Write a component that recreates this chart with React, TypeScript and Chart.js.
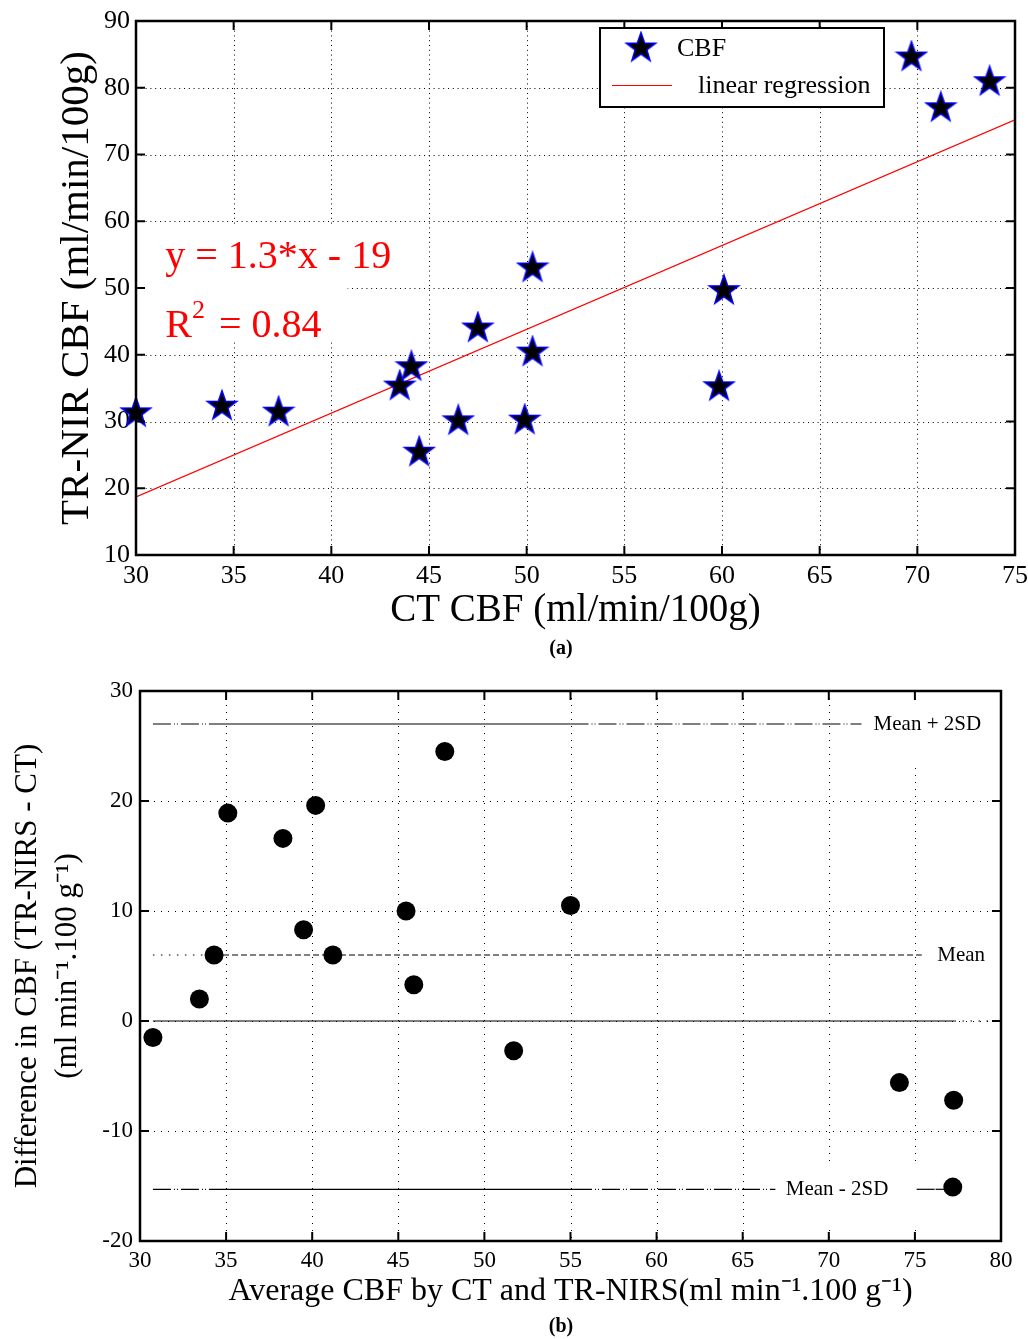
import React, { useEffect, useRef } from 'react';
import { Chart, registerables } from 'chart.js';

Chart.register(...registerables);

const FONT = "'Liberation Serif', 'Times New Roman', serif";

// ---------- Panel (a): TR-NIRS CBF vs CT CBF ----------
const ctCbf = [30.0, 34.4, 37.3, 43.5, 44.1, 44.5, 46.5, 47.5, 49.9, 50.3, 50.3, 59.85, 60.1, 69.7, 71.2, 73.7];
const nirsCbf = [31.3, 32.3, 31.4, 35.3, 38.2, 25.4, 30.1, 44.0, 30.2, 53.0, 40.4, 35.2, 49.6, 84.6, 77.0, 80.9];
const regressionX = [30, 75];
const regressionY = [18.7, 75.2];
const xTicksA = [30, 35, 40, 45, 50, 55, 60, 65, 70, 75];
const yTicksA = [10, 20, 30, 40, 50, 60, 70, 80, 90];
const eqText = 'y = 1.3*x - 19';
const r2Text = '= 0.84';

// ---------- Panel (b): Bland-Altman ----------
const avgCbf = [30.75, 33.45, 34.3, 35.1, 38.3, 39.5, 40.2, 41.2, 45.45, 45.9, 47.7, 51.7, 55.0, 74.1, 77.25, 77.2];
const diffCbf = [-1.5, 2.0, 6.0, 18.9, 16.6, 8.3, 19.6, 6.0, 10.0, 3.3, 24.5, -2.7, 10.5, -5.6, -7.2, -15.1];
const meanDiff = 6.0;
const upperLoa = 27.0;
const lowerLoa = -15.3;
const upperBreaks = [30.75, 35, 55, 71.9];
const lowerBreaks = [30.75, 35, 55.2, 66.9];
const lowerTailBreaks = [75.1, 76.2, 77.2];
const meanBreaks = [30.75, 34.3, 75.4];
const zeroBreaks = [30.75, 77.3, 80];
const xTicksB = [30, 35, 40, 45, 50, 55, 60, 65, 70, 75, 80];
const yTicksB = [-20, -10, 0, 10, 20, 30];
const refLabels = ['Mean + 2SD', 'Mean', 'Mean - 2SD'];
const refLabelX = [72.6, 76.3, 67.5];
const refLabelY = [upperLoa, meanDiff, lowerLoa];

const DASH: Record<string, number[]> = {
  solid: [],
  dashdot: [18, 3, 1, 2, 1, 3],
  dashed: [6, 3],
  dotted: [1.5, 6.5],
};

function makeStar(): HTMLCanvasElement {
  const c = document.createElement('canvas');
  c.width = 34;
  c.height = 35;
  const g = c.getContext('2d')!;
  const cx = 17, cy = 17.5, R = 15.5, r = 6.2;
  g.beginPath();
  for (let i = 0; i < 10; i++) {
    const rad = i % 2 === 0 ? R : r;
    const ang = -Math.PI / 2 + (i * Math.PI) / 5;
    const px = cx + rad * Math.cos(ang);
    const py = cy + rad * Math.sin(ang);
    if (i === 0) g.moveTo(px, py);
    else g.lineTo(px, py);
  }
  g.closePath();
  g.fillStyle = '#000';
  g.fill();
  g.strokeStyle = '#0000ff';
  g.lineWidth = 1.5;
  g.stroke();
  return c;
}

function drawGrid(chart: any, dash: number[]) {
  const { ctx, chartArea: a, scales } = chart;
  const xs = scales.x, ys = scales.y;
  ctx.save();
  ctx.strokeStyle = '#000';
  ctx.lineWidth = 1;
  ctx.setLineDash(dash);
  xs.ticks.forEach((t: any) => {
    if (t.value <= xs.min || t.value >= xs.max) return;
    const px = Math.round(xs.getPixelForValue(t.value)) + 0.5;
    ctx.beginPath();
    ctx.moveTo(px, a.top);
    ctx.lineTo(px, a.bottom);
    ctx.stroke();
  });
  ys.ticks.forEach((t: any) => {
    if (t.value <= ys.min || t.value >= ys.max) return;
    const py = Math.round(ys.getPixelForValue(t.value)) + 0.5;
    ctx.beginPath();
    ctx.moveTo(a.left, py);
    ctx.lineTo(a.right, py);
    ctx.stroke();
  });
  ctx.restore();
}

function drawFrame(chart: any, width: number, tickLen: number) {
  const { ctx, chartArea: a, scales } = chart;
  const xs = scales.x, ys = scales.y;
  ctx.save();
  ctx.setLineDash([]);
  ctx.strokeStyle = '#000';
  ctx.lineWidth = 2;
  xs.ticks.forEach((t: any) => {
    const px = xs.getPixelForValue(t.value);
    ctx.beginPath();
    ctx.moveTo(px, a.bottom);
    ctx.lineTo(px, a.bottom - tickLen);
    ctx.moveTo(px, a.top);
    ctx.lineTo(px, a.top + tickLen);
    ctx.stroke();
  });
  ys.ticks.forEach((t: any) => {
    const py = ys.getPixelForValue(t.value);
    ctx.beginPath();
    ctx.moveTo(a.left, py);
    ctx.lineTo(a.left + tickLen, py);
    ctx.moveTo(a.right, py);
    ctx.lineTo(a.right - tickLen, py);
    ctx.stroke();
  });
  ctx.lineWidth = width;
  ctx.strokeRect(a.left, a.top, a.right - a.left, a.bottom - a.top);
  ctx.restore();
}

function drawCaption(chart: any, text: string, y: number) {
  const { ctx } = chart;
  ctx.save();
  ctx.font = `bold 20px ${FONT}`;
  ctx.fillStyle = '#000';
  ctx.textAlign = 'center';
  ctx.textBaseline = 'middle';
  ctx.fillText(text, 561, y);
  ctx.restore();
}

const zeroPad = () => ({ left: 0, top: 0, right: 0, bottom: 0 });

function axisOpts(ticks: number[], min: number, max: number, size: number, pad: number, fit: (s: any) => void, title: any) {
  return {
    type: 'linear',
    min,
    max,
    afterBuildTicks: (s: any) => {
      s.ticks = ticks.map((v) => ({ value: v }));
    },
    afterFit: (s: any) => {
      fit(s);
      s.paddingLeft = 0;
      s.paddingRight = 0;
      s.paddingTop = 0;
      s.paddingBottom = 0;
      s.getPadding = zeroPad;
    },
    grid: { display: false, drawTicks: false },
    border: { display: false },
    ticks: {
      font: { family: FONT, size },
      color: '#000',
      padding: pad,
      maxRotation: 0,
      autoSkip: false,
      callback: (v: any) => String(v),
    },
    title,
  };
}

function ChartA() {
  const ref = useRef<HTMLCanvasElement>(null);
  useEffect(() => {
    const star = makeStar();
    const plugin = {
      id: 'panelA',
      beforeDatasetsDraw(chart: any) {
        drawGrid(chart, [1, 3.8]);
        const { ctx, chartArea: a, scales } = chart;
        const xs = scales.x, ys = scales.y;
        ctx.save();
        ctx.font = `40px ${FONT}`;
        const ex = xs.getPixelForValue(31.5);
        const eyBase = ys.getPixelForValue(53.0);
        const rBase = ys.getPixelForValue(42.7);
        const eqW = ctx.measureText(eqText).width;
        ctx.fillStyle = '#fff';
        ctx.fillRect(a.left + 2, eyBase - 42, ex + eqW + 8 - a.left - 2, 58);
        const rW = ctx.measureText('R').width;
        ctx.font = `26px ${FONT}`;
        const supW = ctx.measureText('2').width;
        ctx.font = `40px ${FONT}`;
        const r2W = ctx.measureText(r2Text).width;
        const r2End = ex + rW + supW + 14 + r2W;
        ctx.fillStyle = '#fff';
        ctx.fillRect(a.left + 2, rBase - 69, r2End + 26 - a.left - 2, 74);
        ctx.fillStyle = '#ff0000';
        ctx.textAlign = 'left';
        ctx.textBaseline = 'alphabetic';
        ctx.fillText(eqText, ex, eyBase);
        ctx.fillText('R', ex, rBase);
        ctx.font = `26px ${FONT}`;
        ctx.fillText('2', ex + rW, rBase - 19);
        ctx.font = `40px ${FONT}`;
        ctx.fillText(r2Text, ex + rW + supW + 14, rBase);
        ctx.restore();
      },
      afterDatasetsDraw(chart: any) {
        drawFrame(chart, 2.5, 9);
        const { ctx, chartArea: a } = chart;
        const ds = chart.data.datasets;
        const bx = a.right - 415, by = a.top + 7, bw = 284, bh = 79;
        ctx.save();
        ctx.fillStyle = '#fff';
        ctx.fillRect(bx, by, bw, bh);
        ctx.strokeStyle = '#000';
        ctx.lineWidth = 2;
        ctx.setLineDash([]);
        ctx.strokeRect(bx, by, bw, bh);
        ctx.drawImage(star, bx + 41 - star.width / 2, by + 20 - star.height / 2);
        ctx.font = `26px ${FONT}`;
        ctx.fillStyle = '#000';
        ctx.textAlign = 'left';
        ctx.textBaseline = 'middle';
        ctx.fillText(ds[0].label, bx + 77, by + 21);
        ctx.strokeStyle = '#ff0000';
        ctx.lineWidth = 1.2;
        ctx.beginPath();
        ctx.moveTo(bx + 12, by + 57.5);
        ctx.lineTo(bx + 72, by + 57.5);
        ctx.stroke();
        ctx.fillText(ds[1].label, bx + 98, by + 58);
        ctx.restore();
      },
      afterDraw(chart: any) {
        drawCaption(chart, '(a)', 649);
      },
    };
    const chart = new Chart(ref.current!, {
      type: 'scatter',
      data: {
        datasets: [
          {
            label: 'CBF',
            data: ctCbf.map((x, i) => ({ x, y: nirsCbf[i] })),
            pointStyle: star as any,
            pointRadius: 15,
            clip: false as any,
          },
          {
            label: 'linear regression',
            data: regressionX.map((x, i) => ({ x, y: regressionY[i] })),
            showLine: true,
            borderColor: '#ff0000',
            borderWidth: 1.2,
            pointRadius: 0,
          },
        ],
      },
      options: {
        responsive: false,
        animation: false,
        events: [],
        layout: { autoPadding: false, padding: { left: 0, top: 21, right: 13, bottom: 0 } },
        plugins: { legend: { display: false }, tooltip: { enabled: false } },
        scales: {
          x: axisOpts(xTicksA, 30, 75, 26, 6, (s: any) => {
            s.height = 110;
          }, {
            display: true,
            text: 'CT CBF (ml/min/100g)',
            font: { family: FONT, size: 39 },
            color: '#000',
            padding: { top: 0, bottom: 31 },
          }) as any,
          y: axisOpts(yTicksA, 10, 90, 26, 6, (s: any) => {
            s.width = 136;
          }, {
            display: true,
            text: 'TR-NIR CBF (ml/min/100g)',
            font: { family: FONT, size: 41 },
            color: '#000',
            padding: { top: 53, bottom: 0 },
          }) as any,
        },
      } as any,
      plugins: [plugin as any],
    });
    return () => chart.destroy();
  }, []);
  return (
    <canvas
      ref={ref}
      width={1028}
      height={665}
      style={{ position: 'absolute', left: 0, top: 0, width: 1028, height: 665 }}
    />
  );
}

function segments(y: number, breaks: number[], styles: string[]) {
  return breaks.slice(0, -1).map((x0, i) => ({
    label: 'ref',
    data: [
      { x: x0, y },
      { x: breaks[i + 1], y },
    ],
    showLine: true,
    borderColor: '#000',
    borderWidth: 1.2,
    borderDash: DASH[styles[i]],
    pointRadius: 0,
    fill: false,
  }));
}

function ChartB() {
  const ref = useRef<HTMLCanvasElement>(null);
  useEffect(() => {
    const plugin = {
      id: 'panelB',
      beforeDatasetsDraw(chart: any) {
        drawGrid(chart, [1, 6]);
        const { ctx, chartArea: a, scales } = chart;
        const xs = scales.x, ys = scales.y;
        ctx.save();
        ctx.font = `21px ${FONT}`;
        ctx.textAlign = 'left';
        ctx.textBaseline = 'middle';
        refLabels.forEach((t, i) => {
          const px = xs.getPixelForValue(refLabelX[i]);
          const py = ys.getPixelForValue(refLabelY[i]);
          const w = ctx.measureText(t).width;
          const l = Math.max(px - 9, a.left + 2);
          const r = Math.min(px + w + 28, a.right - 2);
          const tp = Math.max(py - 25, a.top + 2);
          const bt = Math.min(py + 40, a.bottom - 2);
          ctx.fillStyle = '#fff';
          ctx.fillRect(l, tp, r - l, bt - tp);
          ctx.fillStyle = '#000';
          ctx.fillText(t, px, py);
        });
        ctx.restore();
      },
      afterDatasetsDraw(chart: any) {
        drawFrame(chart, 2.5, 9);
      },
      afterDraw(chart: any) {
        drawCaption(chart, '(b)', 662);
      },
    };
    const datasets: any[] = [
      {
        label: 'difference',
        data: avgCbf.map((x, i) => ({ x, y: diffCbf[i] })),
        pointStyle: 'circle',
        pointRadius: 9.5,
        pointBackgroundColor: '#000',
        pointBorderWidth: 0,
        clip: false,
      },
      ...segments(upperLoa, upperBreaks, ['dashdot', 'solid', 'dashdot']),
      ...segments(lowerLoa, lowerBreaks, ['dashdot', 'solid', 'dashdot']),
      ...segments(lowerLoa, lowerTailBreaks, ['dashdot', 'solid']),
      ...segments(meanDiff, meanBreaks, ['dotted', 'dashed']),
      ...segments(0, zeroBreaks, ['solid', 'dotted']),
    ];
    const chart = new Chart(ref.current!, {
      type: 'scatter',
      data: { datasets },
      options: {
        responsive: false,
        animation: false,
        events: [],
        layout: { autoPadding: false, padding: { left: 0, top: 26, right: 27, bottom: 0 } },
        plugins: { legend: { display: false }, tooltip: { enabled: false } },
        scales: {
          x: axisOpts(xTicksB, 30, 80, 23, 6, (s: any) => {
            s.height = 98;
          }, {
            display: true,
            text: 'Average CBF by CT and TR-NIRS(ml min⁻¹.100 g⁻¹)',
            font: { family: FONT, size: 32 },
            color: '#000',
            padding: { top: 0, bottom: 28 },
          }) as any,
          y: axisOpts(yTicksB, -20, 30, 23, 7, (s: any) => {
            s.width = 140;
          }, {
            display: true,
            text: ['Difference in CBF (TR-NIRS - CT)', '(ml min⁻¹.100 g⁻¹)'],
            font: { family: FONT, size: 31, lineHeight: 40 / 31 },
            color: '#000',
            padding: { top: 8, bottom: 0 },
          }) as any,
        },
      } as any,
      plugins: [plugin as any],
    });
    return () => chart.destroy();
  }, []);
  return (
    <canvas
      ref={ref}
      width={1028}
      height={674}
      style={{ position: 'absolute', left: 0, top: 665, width: 1028, height: 674 }}
    />
  );
}

export default function App() {
  return (
    <div style={{ position: 'absolute', left: 0, top: 0, width: 1028, height: 1339, background: '#fff', overflow: 'hidden' }}>
      <ChartA />
      <ChartB />
    </div>
  );
}
